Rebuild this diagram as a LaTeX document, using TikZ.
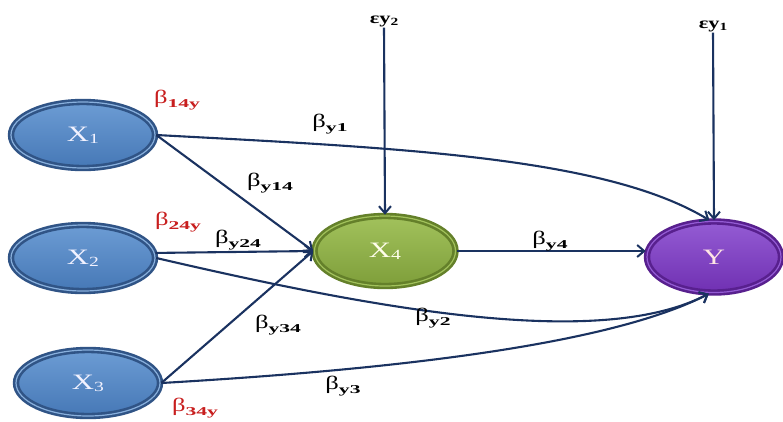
\documentclass[tikz,border=0pt]{standalone}
\usepackage{fontspec}
\setmainfont[FakeStretch=1.4]{Liberation Serif}
\newfontfamily\subfnt[FakeStretch=1.8]{Liberation Serif}
\usetikzlibrary{shapes.geometric,arrows.meta}
\definecolor{navy}{RGB}{26,50,96}
\definecolor{bluemain}{RGB}{70,120,182}
\definecolor{bluelight}{RGB}{108,156,212}
\definecolor{bluedark}{RGB}{48,84,134}
\definecolor{greenmain}{RGB}{126,158,58}
\definecolor{greenlight}{RGB}{162,194,92}
\definecolor{greendark}{RGB}{100,128,42}
\definecolor{purplemain}{RGB}{112,48,178}
\definecolor{purplelight}{RGB}{148,92,212}
\definecolor{purpledark}{RGB}{88,32,142}
\definecolor{redlab}{RGB}{200,30,30}
\newcommand{\betalab}[1]{{\fontsize{19}{19}\selectfont β}\raisebox{-3.5pt}{\subfnt\bfseries\fontsize{12}{12}\selectfont #1}}
\newcommand{\nodetxt}[2]{{\fontsize{22}{22}\selectfont #1}\raisebox{-2pt}{\fontsize{14}{14}\selectfont #2}}
\tikzset{
  ball/.style={ellipse, inner sep=0pt, line width=2.6pt, double distance=1.2pt},
  blueball/.style={ball, minimum width=144pt, minimum height=66pt, draw=bluedark, double=bluelight!80,
    top color=bluelight, bottom color=bluemain, text=blue!5!white},
  greenball/.style={ball, minimum width=141pt, minimum height=70pt, draw=greendark, double=greenlight,
    top color=greenlight, bottom color=greenmain, text=yellow!8!white},
  purpleball/.style={ball, minimum width=134pt, minimum height=71pt, draw=purpledark, double=purplelight,
    top color=purplelight, bottom color=purplemain, text=pink!40!white},
  arr/.style={draw=navy, line width=2.1pt, -{Straight Barb[length=7pt,width=12pt,line width=2pt]}},
  lab/.style={inner sep=0pt, text=black},
  redl/.style={inner sep=0pt, text=redlab},
  eps/.style={inner sep=1pt, font=\bfseries\fontsize{16}{16}\selectfont}
}
\begin{document}
\begin{tikzpicture}[x=1pt,y=1pt]
\useasboundingbox[fill=white] (0,0) rectangle (783,-421);
% nodes
\node[blueball] (X1) at (83,-135) {\nodetxt{X}{1}};
\node[blueball] (X2) at (83,-258) {\nodetxt{X}{2}};
\node[blueball] (X3) at (88,-383) {\nodetxt{X}{3}};
\node[greenball] (X4) at (385,-251) {\nodetxt{X}{4}};
\node[purpleball] (Y) at (714,-257) {{\fontsize{22}{22}\selectfont Y}};
\node[eps] (e2) at (384,-21) {εy\raisebox{-2pt}{\fontsize{11}{11}\selectfont 2}};
\node[eps] (e1) at (713,-26) {εy\raisebox{-2pt}{\fontsize{11}{11}\selectfont 1}};
% connectors
\draw[arr] (e2.south) -- (X4.north);
\draw[arr] (e1.south) -- (Y.north);
\draw[arr] (X1.east) .. controls (400,-148) and (605,-157) .. (Y.97);
\draw[arr] (X1.east) -- (X4.west);
\draw[arr] (X2.4) -- (X4.west);
\draw[arr] (X3.east) -- (X4.west);
\draw[arr] (X2.east) .. controls (380,-310) and (600,-350) .. (Y.262);
\draw[arr] (X3.east) .. controls (350,-372) and (600,-350) .. (Y.262);
\draw[arr] (X4.east) -- (Y.west |- X4.east);
% labels
\node[lab] (l1) at (330,-124) {\betalab{y1}};
\node[lab] (l14) at (270,-183) {\betalab{y14}};
\node[lab] (l24) at (238,-240) {\betalab{y24}};
\node[lab] (l34) at (278,-325) {\betalab{y34}};
\node[lab] (l2) at (433,-318) {\betalab{y2}};
\node[lab] (l3) at (343,-386) {\betalab{y3}};
\node[lab] (l4) at (550,-241) {\betalab{y4}};
\node[redl] (r14) at (177,-100) {\betalab{14y}};
\node[redl] (r24) at (178,-222) {\betalab{24y}};
\node[redl] (r34) at (195,-408) {\betalab{34y}};
\end{tikzpicture}
\end{document}
